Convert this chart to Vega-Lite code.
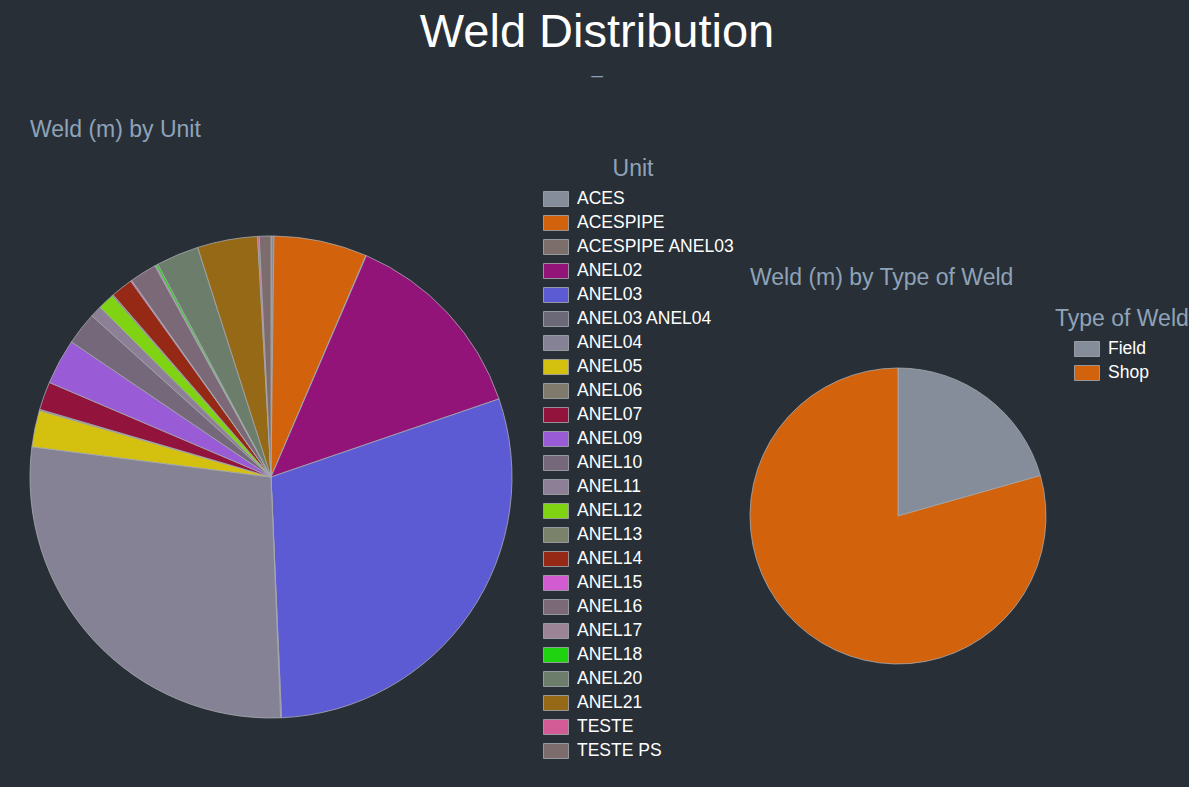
{
  "$schema": "https://vega.github.io/schema/vega-lite/v6.json",
  "background": "#282f37",
  "padding": {"left": 28, "top": 9, "right": 0, "bottom": 0},
  "bounds": "flush",
  "spacing": 238,
  "title": {
    "text": "Weld Distribution",
    "subtitle": "–",
    "anchor": "start",
    "align": "center",
    "frame": "group",
    "dx": 567,
    "offset": 32,
    "fontSize": 47,
    "font": "Liberation Sans",
    "fontWeight": "normal",
    "color": "#ffffff",
    "subtitleColor": "#8fa3b8",
    "subtitleFontSize": 21,
    "subtitleFont": "Liberation Sans",
    "subtitlePadding": 8
  },
  "config": {
    "view": {"stroke": null},
    "arc": {"stroke": "#a7abb0", "strokeWidth": 0.8},
    "title": {"color": "#8fa3b8", "fontSize": 23, "font": "Liberation Sans", "fontWeight": "normal"},
    "legend": {
      "titleColor": "#8fa3b8",
      "titleFontSize": 23,
      "titleFont": "Liberation Sans",
      "titleFontWeight": "normal",
      "labelColor": "#ffffff",
      "labelFontSize": 17.5,
      "labelFont": "Liberation Sans",
      "symbolType": "M-1,-0.6H1V0.6H-1Z",
      "symbolSize": 625,
      "symbolStrokeWidth": 0,
      "clipHeight": 16,
      "rowPadding": 6,
      "labelOffset": 8,
      "titlePadding": 10
    }
  },
  "resolve": {"scale": {"color": "independent"}},
  "hconcat": [
    {
      "width": 482,
      "height": 482,
      "title": {"text": "Weld (m) by Unit", "anchor": "start", "frame": "group", "offset": 16},
      "data": {
        "values": [
          {"unit": "ACES", "weld": 7},
          {"unit": "ACESPIPE", "weld": 225},
          {"unit": "ACESPIPE ANEL03", "weld": 1},
          {"unit": "ANEL02", "weld": 478},
          {"unit": "ANEL03", "weld": 1064},
          {"unit": "ANEL03 ANEL04", "weld": 2},
          {"unit": "ANEL04", "weld": 995},
          {"unit": "ANEL05", "weld": 88},
          {"unit": "ANEL06", "weld": 3},
          {"unit": "ANEL07", "weld": 68},
          {"unit": "ANEL09", "weld": 110},
          {"unit": "ANEL10", "weld": 79},
          {"unit": "ANEL11", "weld": 28},
          {"unit": "ANEL12", "weld": 40},
          {"unit": "ANEL13", "weld": 3},
          {"unit": "ANEL14", "weld": 53},
          {"unit": "ANEL15", "weld": 3},
          {"unit": "ANEL16", "weld": 65},
          {"unit": "ANEL17", "weld": 3},
          {"unit": "ANEL18", "weld": 5},
          {"unit": "ANEL20", "weld": 103},
          {"unit": "ANEL21", "weld": 145},
          {"unit": "TESTE", "weld": 4},
          {"unit": "TESTE PS", "weld": 28}
        ]
      },
      "mark": {"type": "arc"},
      "encoding": {
        "theta": {"field": "weld", "type": "quantitative", "stack": true},
        "color": {
          "field": "unit",
          "type": "nominal",
          "scale": {
            "domain": ["ACES", "ACESPIPE", "ACESPIPE ANEL03", "ANEL02", "ANEL03", "ANEL03 ANEL04", "ANEL04", "ANEL05", "ANEL06", "ANEL07", "ANEL09", "ANEL10", "ANEL11", "ANEL12", "ANEL13", "ANEL14", "ANEL15", "ANEL16", "ANEL17", "ANEL18", "ANEL20", "ANEL21", "TESTE", "TESTE PS"],
            "range": ["#868d9a", "#d2620c", "#7c6e6b", "#931478", "#5c5bd3", "#6b6878", "#868296", "#d4c10f", "#807a6d", "#92133c", "#9a5bd6", "#74687a", "#8c7f96", "#7fd313", "#7b826b", "#952915", "#d25bd1", "#7b6978", "#9b8496", "#1fd311", "#6d7d6b", "#966916", "#d35c96", "#7c6c6d"]
          },
          "legend": {
            "title": "Unit",
            "orient": "none",
            "legendX": 501,
            "legendY": -78,
            "symbolOffset": 12,
            "titleAnchor": "middle",
            "labelLimit": 0
          }
        }
      }
    },
    {
      "width": 296,
      "height": 560,
      "title": {"text": "Weld (m) by Type of Weld", "anchor": "start", "frame": "group", "offset": -54},
      "data": {
        "values": [
          {"type": "Field", "weld": 2060},
          {"type": "Shop", "weld": 7940}
        ]
      },
      "mark": {"type": "arc"},
      "encoding": {
        "theta": {"field": "weld", "type": "quantitative", "stack": true},
        "color": {
          "field": "type",
          "type": "nominal",
          "scale": {"domain": ["Field", "Shop"], "range": ["#868d9a", "#d2620c"]},
          "legend": {
            "title": "Type of Weld",
            "orient": "none",
            "legendX": 305,
            "legendY": 72,
            "titleAnchor": "start",
            "symbolOffset": 19,
            "titleLimit": 400
          }
        }
      }
    }
  ]
}
